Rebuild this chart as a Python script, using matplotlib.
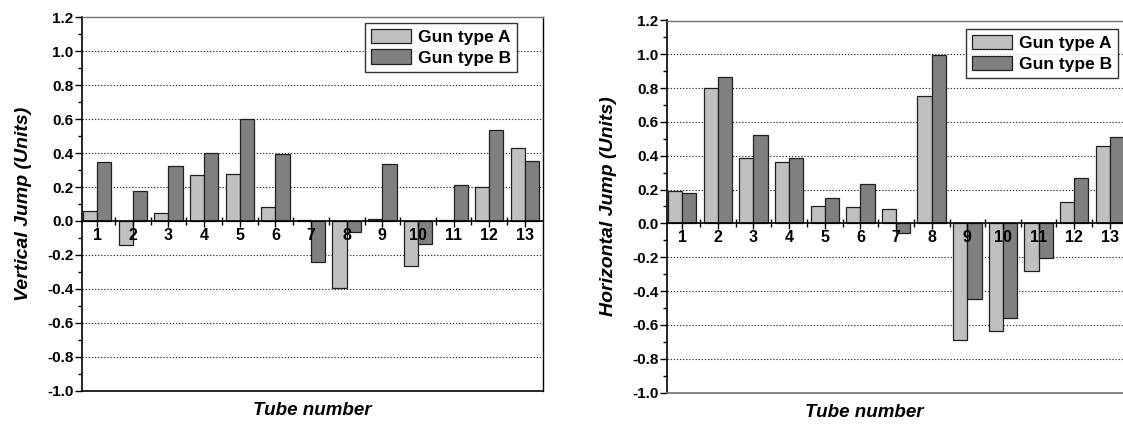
import numpy as np
import matplotlib
matplotlib.use("Agg")
import matplotlib.pyplot as plt
from matplotlib.ticker import MultipleLocator

plt.rcParams['font.family'] = ['Liberation Sans', 'DejaVu Sans']

tubes = np.arange(1, 14)
tube_labels = [str(t) for t in tubes]
y_ticks = [-1.0, -0.8, -0.6, -0.4, -0.2, 0.0, 0.2, 0.4, 0.6, 0.8, 1.0, 1.2]
y_tick_labels = ['-1.0', '-0.8', '-0.6', '-0.4', '-0.2', '0.0', '0.2', '0.4', '0.6', '0.8', '1.0', '1.2']

vert_a = [0.057, -0.143, 0.047, 0.271, 0.279, 0.084, 0.003, -0.395, 0.012, -0.266, 0.007, 0.201, 0.428]
vert_b = [0.346, 0.175, 0.324, 0.399, 0.599, 0.395, -0.243, -0.063, 0.334, -0.133, 0.213, 0.537, 0.356]

horiz_a = [0.193, 0.802, 0.389, 0.363, 0.104, 0.096, 0.088, 0.754, -0.692, -0.636, -0.282, 0.124, 0.456]
horiz_b = [0.177, 0.868, 0.523, 0.385, 0.153, 0.236, -0.055, 0.998, -0.445, -0.558, -0.205, 0.269, 0.511]

light = '#c0c0c0'
dark = '#808080'

fig = plt.figure(figsize=(11.23, 4.28), dpi=100)
W, H = 1123.0, 428.0


def make_axes(left, top, right, bottom):
    return fig.add_axes([left / W, 1 - bottom / H, (right - left) / W, (bottom - top) / H])


def draw(ax, a, b, ylabel, xlabel_x, legend_box, bottom_color):
    ax.bar(tubes, a, width=-0.4, align='edge', color=light, edgecolor='#202020',
           linewidth=0.9, label='Gun type A', zorder=1.5)
    ax.bar(tubes, b, width=0.4, align='edge', color=dark, edgecolor='#202020',
           linewidth=0.9, label='Gun type B', zorder=1.5)
    ax.set_xlim(0.565, 13.5)
    ax.set_ylim(-1.0, 1.2)

    ax.spines['bottom'].set_position(('data', 0))
    ax.spines['bottom'].set_linewidth(1.2)
    ax.spines['left'].set_linewidth(1.2)
    ax.spines['top'].set_color('#707070')
    ax.spines['top'].set_linewidth(1.0)
    ax.spines['right'].set_linewidth(1.0)
    ax.axhline(-1.0, color=bottom_color, lw=1.2, clip_on=False, zorder=4)

    # y axis
    ax.set_yticks(y_ticks)
    ax.set_yticklabels(y_tick_labels, fontweight='bold')
    ax.yaxis.set_minor_locator(MultipleLocator(0.1))
    ax.tick_params(axis='y', which='major', direction='out', length=5, width=1.0,
                   labelsize=11, pad=1)
    ax.tick_params(axis='y', which='minor', direction='out', length=3, width=1.0)

    # x axis on the zero line
    ax.set_xticks(tubes)
    ax.set_xticklabels(tube_labels, fontweight='bold')
    ax.set_xticks(tubes[:-1] + 0.5, minor=True)
    ax.tick_params(axis='x', which='major', direction='out', length=4, width=1.0,
                   labelsize=11.5, pad=1)
    ax.tick_params(axis='x', which='minor', direction='inout', length=6, width=1.0)

    for yv in [-0.8, -0.6, -0.4, -0.2, 0.2, 0.4, 0.6, 0.8, 1.0]:
        ax.axhline(yv, color='#333333', lw=0.8, ls=(0, (1.2, 1.6)), zorder=1)

    ax.set_ylabel(ylabel, fontsize=14, fontweight='bold', fontstyle='italic')
    ax.yaxis.set_label_coords(-0.107, 0.5)
    ax.set_xlabel('Tube number', fontsize=13.5, fontweight='bold', fontstyle='italic')
    ax.xaxis.set_label_coords(xlabel_x, -0.03)

    leg = ax.legend(loc='upper left', bbox_to_anchor=legend_box,
                    prop={'weight': 'bold', 'size': 12.5}, frameon=True, fancybox=False,
                    handlelength=2.3, handleheight=0.9, handletextpad=0.4,
                    borderpad=0.35, labelspacing=0.25, borderaxespad=0)
    leg.get_frame().set_edgecolor('black')
    leg.get_frame().set_linewidth(1.0)
    leg.set_zorder(5)


ax1 = make_axes(81.7, 17.3, 542.7, 390.7)
draw(ax1, vert_a, vert_b, 'Vertical Jump (Units)', 0.5,
     ((365 - 81.7) / 461.0, (390.7 - 22.7) / 373.4), 'black')

ax2 = make_axes(666.7, 20.5, 1127.7, 392.5)
draw(ax2, horiz_a, horiz_b, 'Horizontal Jump (Units)', 0.428,
     ((966 - 666.7) / 461.0, (392.5 - 29) / 372.0), '#707070')

fig.savefig('out.png', dpi=100)
